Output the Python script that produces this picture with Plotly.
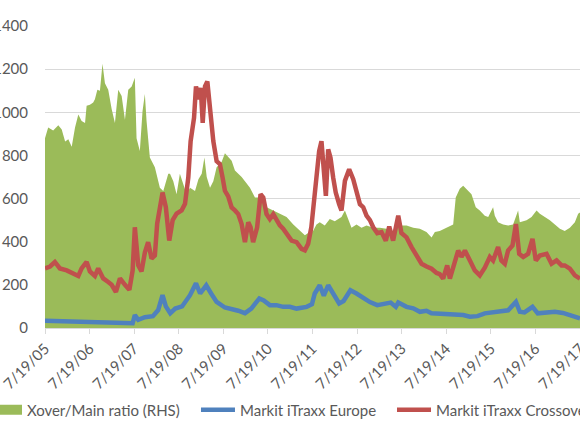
import plotly.graph_objects as go

# Xover/Main ratio (RHS, 0-14)
ratio_dates = [
    "2005-07-19", "2005-08-14", "2005-09-24", "2005-11-05", "2005-12-03", "2005-12-31",
    "2006-01-26", "2006-02-23", "2006-03-22", "2006-04-18", "2006-05-15", "2006-06-12",
    "2006-06-25", "2006-07-22", "2006-08-18", "2006-09-01", "2006-09-21", "2006-10-12",
    "2006-11-02", "2006-11-22", "2006-12-19", "2007-01-16", "2007-02-12", "2007-03-11",
    "2007-04-08", "2007-05-05", "2007-06-01", "2007-06-29", "2007-07-25", "2007-08-08",
    "2007-09-04", "2007-09-26", "2007-10-15", "2007-10-29", "2007-11-25", "2008-01-05",
    "2008-02-15", "2008-03-14", "2008-04-24", "2008-05-08", "2008-06-04", "2008-07-01",
    "2008-07-28", "2008-08-25", "2008-09-21", "2008-10-19", "2008-11-29", "2008-12-27",
    "2009-01-23", "2009-02-14", "2009-03-05", "2009-04-01", "2009-04-28", "2009-05-25",
    "2009-07-05", "2009-08-01", "2009-08-28", "2009-09-25", "2009-10-22", "2009-11-18",
    "2009-12-16", "2010-01-12", "2010-02-22", "2010-04-04", "2010-05-15", "2010-07-08",
    "2010-09-01", "2010-10-25", "2010-12-19", "2011-02-12", "2011-04-07", "2011-05-18",
    "2011-06-14", "2011-07-24", "2011-08-21", "2011-09-17", "2011-10-28", "2011-12-08",
    "2012-01-18", "2012-02-14", "2012-03-13", "2012-04-10", "2012-05-07", "2012-06-03",
    "2012-07-14", "2012-08-24", "2012-10-04", "2012-11-28", "2013-01-21", "2013-03-16",
    "2013-05-10", "2013-07-04", "2013-08-28", "2013-10-22", "2013-12-15", "2014-02-07",
    "2014-03-21", "2014-04-17", "2014-05-27", "2014-07-22", "2014-09-14", "2014-10-05",
    "2014-11-07", "2014-12-05", "2015-01-01", "2015-02-11", "2015-03-18", "2015-04-20",
    "2015-05-31", "2015-06-28", "2015-08-07", "2015-08-21", "2015-09-17", "2015-10-28",
    "2015-12-08", "2016-01-18", "2016-02-28", "2016-03-13", "2016-05-07", "2016-06-17",
    "2016-07-28", "2016-08-24", "2016-10-04", "2016-11-14", "2016-12-25", "2017-02-04",
    "2017-03-16", "2017-04-27", "2017-06-07", "2017-07-04", "2017-07-19",
]
ratio = [
    8.8, 9.3, 9.15, 9.4, 9.2, 8.65,
    8.75, 8.4, 9.3, 9.9, 9.6, 9.5,
    10.3, 10.35, 10.45, 10.6, 11.05, 11.0,
    12.25, 11.35, 11.05, 10.15, 9.5, 11.05,
    10.75, 9.65, 11.05, 11.2, 11.6, 8.8,
    8.2, 10.05, 10.85, 9.6, 7.9, 7.45,
    6.5, 6.35, 7.15, 7.15, 6.8, 6.2,
    7.15, 6.7, 6.2, 6.5, 6.35, 6.9,
    7.15, 7.9, 7.0, 6.5, 6.8, 7.45,
    7.7, 8.1, 7.9, 7.75, 7.3, 7.15,
    7.0, 6.8, 6.5, 6.05, 6.05, 5.6,
    5.45, 5.3, 5.15, 4.8, 4.5, 4.3,
    4.4, 4.5, 4.8, 4.9, 4.75, 5.05,
    4.95, 5.05, 5.15, 5.45, 5.0, 4.65,
    4.8, 4.65, 4.75, 4.65, 4.65, 4.6,
    4.45, 4.75, 4.75, 4.65, 4.6, 4.45,
    4.2, 4.45, 4.5, 4.65, 4.8, 6.05,
    6.45, 6.6, 6.45, 6.2, 5.6, 5.45,
    5.2, 5.15, 5.6, 5.2, 4.9, 4.8,
    4.75, 4.8, 5.45, 4.9, 5.0, 5.15,
    5.45, 5.3, 5.15, 5.0, 4.8, 4.6,
    4.5, 4.65, 4.9, 5.3, 5.35,
]

# Markit iTraxx Crossover (bp)
xover_dates = [
    "2005-07-19", "2005-08-29", "2005-10-08", "2005-11-18", "2006-01-13", "2006-03-08",
    "2006-04-18", "2006-05-15", "2006-06-25", "2006-07-22", "2006-09-01", "2006-09-28",
    "2006-11-08", "2006-12-19", "2007-01-16", "2007-02-20", "2007-03-25", "2007-05-05",
    "2007-06-10", "2007-07-07", "2007-07-25", "2007-08-22", "2007-09-18", "2007-10-15",
    "2007-11-11", "2007-12-09", "2008-01-05", "2008-01-24", "2008-02-15", "2008-03-08",
    "2008-04-04", "2008-05-02", "2008-05-30", "2008-07-01", "2008-08-11", "2008-09-08",
    "2008-10-05", "2008-10-24", "2008-11-21", "2008-12-07", "2008-12-27", "2009-01-15",
    "2009-01-31", "2009-02-19", "2009-03-10", "2009-03-26", "2009-04-06", "2009-04-28",
    "2009-05-25", "2009-06-21", "2009-07-13", "2009-08-01", "2009-08-28", "2009-09-25",
    "2009-10-22", "2009-11-18", "2009-12-16", "2010-01-12", "2010-02-08", "2010-02-27",
    "2010-03-20", "2010-04-22", "2010-05-20", "2010-06-11", "2010-07-08", "2010-08-04",
    "2010-09-01", "2010-09-27", "2010-10-25", "2010-11-21", "2010-12-19", "2011-01-29",
    "2011-03-11", "2011-04-21", "2011-05-18", "2011-06-14", "2011-07-10", "2011-08-07",
    "2011-08-26", "2011-09-12", "2011-10-01", "2011-10-20", "2011-11-06", "2011-11-25",
    "2011-12-14", "2012-01-05", "2012-01-26", "2012-02-23", "2012-03-13", "2012-04-10",
    "2012-05-15", "2012-06-17", "2012-07-14", "2012-08-11", "2012-09-07", "2012-10-04",
    "2012-11-01", "2012-11-28", "2012-12-31", "2013-02-04", "2013-03-11", "2013-04-08",
    "2013-05-10", "2013-06-21", "2013-07-17", "2013-08-28", "2013-10-08", "2013-11-18",
    "2013-12-29", "2014-02-08", "2014-03-21", "2014-05-01", "2014-05-27", "2014-06-24",
    "2014-07-27", "2014-08-18", "2014-09-28", "2014-10-25", "2014-11-21", "2014-12-19",
    "2015-01-29", "2015-03-10", "2015-04-20", "2015-05-31", "2015-07-11", "2015-08-07",
    "2015-09-17", "2015-10-14", "2015-11-11", "2015-12-08", "2016-01-13", "2016-02-10",
    "2016-03-08", "2016-04-10", "2016-05-20", "2016-06-25", "2016-07-22", "2016-08-24",
    "2016-10-18", "2016-11-28", "2017-01-08", "2017-02-18", "2017-03-16", "2017-04-27",
    "2017-06-07", "2017-07-19",
]
xover = [
    276, 285, 306, 276, 267, 253,
    241, 276, 306, 262, 241, 276,
    230, 213, 200, 167, 230, 200,
    177, 267, 467, 290, 262, 350,
    398, 322, 336, 484, 545, 628,
    560, 405, 500, 530, 545, 576,
    697, 866, 974, 1120, 1060, 1113,
    951, 1120, 1143, 1050, 945, 866,
    774, 760, 697, 636, 610, 559,
    545, 528, 482, 398, 490, 467,
    398, 467, 620, 605, 528, 505,
    528, 498, 476, 460, 436, 405,
    398, 367, 360, 391, 467, 620,
    743, 820, 866, 750, 613, 828,
    790, 697, 628, 574, 545, 682,
    736, 690, 628, 574, 560, 521,
    500, 467, 440, 445, 405, 470,
    405, 521, 440, 420, 375, 340,
    298, 285, 275, 255, 250, 229,
    290, 229, 313, 359, 330, 359,
    313, 267, 244, 280, 329, 313,
    375, 313, 298, 359, 382, 482,
    344, 329, 344, 413, 313, 336,
    344, 298, 313, 290, 290, 275,
    244, 229,
]

# Markit iTraxx Europe (bp)
main_dates = [
    "2005-07-19", "2005-11-18", "2006-03-08", "2006-06-25", "2006-12-01", "2007-02-20",
    "2007-06-10", "2007-07-07", "2007-07-25", "2007-08-22", "2007-10-15", "2007-12-20",
    "2008-02-01", "2008-03-08", "2008-04-04", "2008-05-10", "2008-06-20", "2008-08-15",
    "2008-10-19", "2008-12-07", "2009-01-10", "2009-03-01", "2009-04-10", "2009-05-25",
    "2009-08-01", "2009-09-25", "2009-11-18", "2010-01-12", "2010-03-05", "2010-05-10",
    "2010-06-15", "2010-08-04", "2010-09-27", "2010-11-21", "2011-01-15", "2011-03-11",
    "2011-06-01", "2011-07-15", "2011-08-07", "2011-09-17", "2011-10-20", "2011-11-25",
    "2012-01-05", "2012-02-23", "2012-03-30", "2012-05-25", "2012-07-14", "2012-08-24",
    "2012-11-01", "2012-12-31", "2013-02-25", "2013-04-20", "2013-06-01", "2013-06-21",
    "2013-08-28", "2013-10-22", "2013-12-15", "2014-02-07", "2014-03-21", "2014-05-27",
    "2014-06-24", "2014-09-14", "2014-12-05", "2015-01-29", "2015-04-01", "2015-05-31",
    "2015-08-07", "2015-10-01", "2015-12-08", "2016-02-10", "2016-03-13", "2016-04-20",
    "2016-06-25", "2016-08-07", "2016-10-18", "2016-12-25", "2017-03-01", "2017-05-10",
    "2017-07-19",
]
main = [
    34, 32, 32, 29, 24, 22,
    20, 22, 60, 38, 50, 55,
    83, 152, 100, 68, 90, 100,
    152, 207, 160, 198, 160, 121,
    95, 90, 80, 69, 90, 137,
    128, 106, 106, 98, 98, 90,
    98, 110, 160, 198, 150, 198,
    160, 114, 125, 175, 160, 145,
    120, 106, 112, 118, 98, 118,
    98, 91, 75, 80, 68, 65,
    68, 62, 60, 52, 55, 68,
    72, 78, 82, 121, 75, 72,
    98, 68, 72, 75, 70, 60,
    45,
]

tick_dates = [
    "2005-07-19", "2006-07-19", "2007-07-19", "2008-07-19", "2009-07-19", "2010-07-19",
    "2011-07-19", "2012-07-19", "2013-07-19", "2014-07-19", "2015-07-19", "2016-07-19",
    "2017-07-19",
]
tick_labels = [
    "7/19/05", "7/19/06", "7/19/07", "7/19/08", "7/19/09", "7/19/10",
    "7/19/11", "7/19/12", "7/19/13", "7/19/14", "7/19/15", "7/19/16",
    "7/19/17",
]

GREEN = "#9BBB59"
BLUE = "#4F81BD"
RED = "#C0504D"
TXT = "#595959"
GRID = "#D9D9D9"
FONT = "Lato"

fig = go.Figure()

# area on the primary (hidden) ratio axis so the spread lines sit on top
fig.add_trace(go.Scatter(
    x=ratio_dates, y=ratio, yaxis="y", mode="lines",
    line=dict(width=0, color=GREEN), fill="tozeroy", fillcolor=GREEN,
    showlegend=False,
))
fig.add_trace(go.Scatter(
    x=main_dates, y=main, yaxis="y2", mode="lines",
    line=dict(color=BLUE, width=4.5), name="Markit iTraxx Europe", legend="legend2",
))
fig.add_trace(go.Scatter(
    x=xover_dates, y=xover, yaxis="y2", mode="lines",
    line=dict(color=RED, width=4.5), name="Markit iTraxx Crossover", legend="legend3",
))
# legend swatch for the area
fig.add_trace(go.Scatter(
    x=[None], y=[None], yaxis="y2", mode="lines",
    line=dict(color=GREEN, width=10), name="Xover/Main ratio (RHS)", legend="legend",
))

leg = dict(orientation="h", xanchor="left", yanchor="middle", y=-0.2715,
           font=dict(family=FONT, size=15, color=TXT), bgcolor="rgba(0,0,0,0)",
           itemwidth=34)

fig.update_layout(
    width=580, height=435,
    margin=dict(l=45, r=0, t=26, b=107, autoexpand=False),
    paper_bgcolor="white", plot_bgcolor="white",
    font=dict(family=FONT, size=15, color=TXT),
    xaxis=dict(
        type="date", range=["2005-07-19", "2017-07-19"],
        tickvals=tick_dates, ticktext=tick_labels, tickangle=-45,
        showgrid=False, showline=True, linecolor=GRID, linewidth=1,
        ticks="outside", ticklen=5, tickcolor=GRID, automargin=False,
        ticklabeloverflow="allow",
        tickfont=dict(family=FONT, size=15, color=TXT),
    ),
    yaxis=dict(
        range=[0, 14], dtick=2, showgrid=True, gridcolor=GRID, gridwidth=1,
        zeroline=False, showline=False, ticks="", showticklabels=False,
        automargin=False,
    ),
    yaxis2=dict(
        range=[0, 1400], dtick=200, overlaying="y", side="left",
        showgrid=False, zeroline=False, showline=False, ticks="",
        ticklabelstandoff=16, automargin=False, ticklabeloverflow="allow",
        tickfont=dict(family=FONT, size=15, color=TXT),
    ),
    legend=dict(leg, x=-0.1159),
    legend2=dict(leg, x=0.2822),
    legend3=dict(leg, x=0.6486),
)

# the page body has a default 8px margin; drop it so the chart sits at the window corner
fig.write_html("out.html", config={"displayModeBar": False},
               post_script="document.body.style.margin='0';")
